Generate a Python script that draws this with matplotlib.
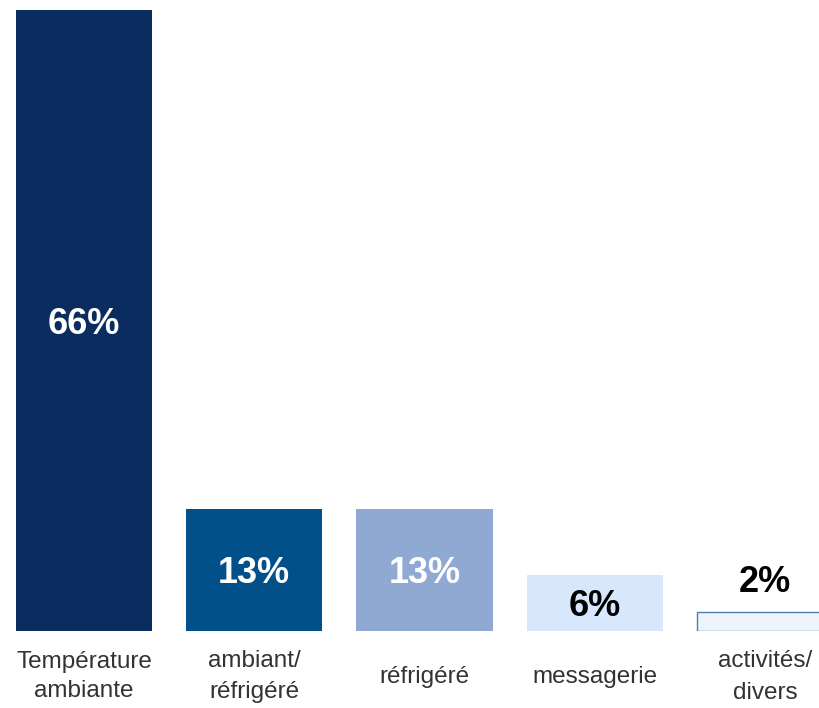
import matplotlib.pyplot as plt

plt.rcParams['font.family'] = ['Liberation Sans', 'DejaVu Sans']

# share of activity by type
categories = ['Température\nambiante', 'ambiant/\nréfrigéré', 'réfrigéré', 'messagerie', 'activités/\ndivers']
values = [66, 13, 13, 6, 2]
bar_colors = ['#0b2c5f', '#02508a', '#8fa9d3', '#d8e7fb', '#eef4fc']
text_colors = ['white', 'white', 'white', 'black', 'black']
line_spacing = [1.39, 1.57, 1.2, 1.2, 1.6]

fig = plt.figure(figsize=(8.19, 7.08), dpi=100)
ax = fig.add_axes([0, 77 / 708, 1, 621 / 708])

x = range(len(values))
bars = ax.bar(x, values, width=0.8, color=bar_colors)
# last bar gets a thin outline so it shows against the white
bars[-1].set_edgecolor('#4f7fae')
bars[-1].set_linewidth(1)

for i, (b, v) in enumerate(zip(bars, values)):
    label = f'{v}%'
    cx = b.get_x() + b.get_width() / 2
    if v >= 5:
        ax.text(cx, v / 2 - 0.4, label, ha='center', va='center',
                fontsize=26, fontweight='bold', color=text_colors[i])
    else:
        ax.text(cx, v + 3.2, label, ha='center', va='center',
                fontsize=26, fontweight='bold', color=text_colors[i])

# category names under the bars
for i, c in enumerate(categories):
    ax.text(i, -4.85, c, ha='center', va='center', fontsize=17.5, color='#333333',
            linespacing=line_spacing[i], clip_on=False)

ax.set_xlim(-0.493, 4.316)
ax.set_ylim(0, 66)
ax.axis('off')

fig.savefig('out.png', dpi=100)
